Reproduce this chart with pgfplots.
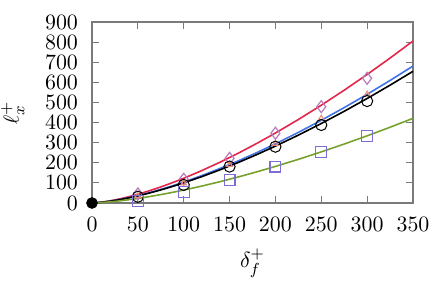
\documentclass[border=0pt]{standalone}
\usepackage{pgfplots}
\pgfplotsset{compat=1.18}
\definecolor{cred}{HTML}{E3264B}
\definecolor{cblue}{HTML}{4172E6}
\definecolor{cgreen}{HTML}{78A22F}
\definecolor{cdia}{HTML}{B77BBF}
\definecolor{ctri}{HTML}{F08A6E}
\definecolor{csq}{HTML}{7B6FD6}
\definecolor{cframe}{HTML}{7A7A7A}
\begin{document}
\begin{tikzpicture}
\useasboundingbox (-46pt,-38.5pt) rectangle (174.5pt,101.5pt);
\begin{axis}[
  at={(0,0)}, anchor=south west,
  scale only axis, width=160.5pt, height=90.5pt,
  xmin=0, xmax=350, ymin=0, ymax=900,
  xtick={0,50,...,350}, ytick={0,100,...,900},
  tick align=inside, major tick length=3.6pt,
  axis line style={cframe, line width=0.6pt},
  every tick/.style={cframe, line width=0.6pt},
  font=\fontsize{11}{13}\selectfont,
  yticklabel style={xshift=-3.5pt},
  xticklabel style={yshift=-3.5pt},
  xlabel={$\delta_f^+$}, ylabel={$\ell_x^+$},
  xlabel style={yshift=-2pt},
  ylabel style={yshift=3.5pt},
  clip=false,
]
\addplot[cred, line width=0.8pt, no marks] coordinates {
(0,0) (10,3.9) (20,11.0) (30,20.2) (40,31.1) (50,43.5) (60,57.2) (70,72.0) (80,88.0) (90,105.0) (100,123) (120,161.7) (140,203.7) (160,248.9) (180,297.0) (200,347.9) (225,415.1) (250,486.2) (275,560.9) (300,639.1) (325,720.7) (350,805.4)};
\addplot[cblue, line width=0.8pt, no marks] coordinates {
(0,0) (10,3.3) (20,9.3) (30,17.1) (40,26.3) (50,36.8) (60,48.3) (70,60.9) (80,74.4) (90,88.8) (100,104) (120,136.7) (140,172.3) (160,210.5) (180,251.2) (200,294.2) (225,351) (250,411.1) (275,474.3) (300,540.4) (325,609.3) (350,681.0)};
\addplot[black, line width=0.8pt, no marks] coordinates {
(0,0) (10,3.2) (20,8.9) (30,16.4) (40,25.3) (50,35.4) (60,46.5) (70,58.6) (80,71.6) (90,85.4) (100,100) (120,131.5) (140,165.7) (160,202.4) (180,241.5) (200,282.8) (225,337.5) (250,395.3) (275,456.0) (300,519.6) (325,585.9) (350,654.8)};
\addplot[cgreen, line width=0.8pt, no marks] coordinates {
(0,0) (10,2.0) (20,5.8) (30,10.6) (40,16.3) (50,22.7) (60,29.9) (70,37.7) (80,46.0) (90,54.9) (100,64.3) (120,84.5) (140,106.5) (160,130.1) (180,155.3) (200,181.9) (225,217.0) (250,254.2) (275,293.2) (300,334.1) (325,376.7) (350,421.0)};
\addplot[only marks, mark=diamond, mark size=3pt, cdia, mark options={line width=0.6pt}] coordinates {
(50,45) (100,118) (150,222) (200,347) (250,479) (300,620)};
\addplot[only marks, mark=triangle, mark size=1.6pt, ctri, mark options={line width=0.5pt}] coordinates {
(50,35) (100,98) (150,190) (200,295) (250,421) (300,541)};
\addplot[only marks, mark=o, mark size=2.8pt, black, mark options={line width=0.5pt}] coordinates {
(50,31) (100,90) (150,181) (200,280) (250,388) (300,507)};
\addplot[only marks, mark=square, mark size=2.7pt, csq, mark options={line width=0.6pt}] coordinates {
(50,11) (100,56) (150,114) (200,181) (250,255) (300,333)};
\addplot[only marks, mark=*, mark size=2.7pt, black] coordinates {(0,0)};
\end{axis}
\end{tikzpicture}
\end{document}
